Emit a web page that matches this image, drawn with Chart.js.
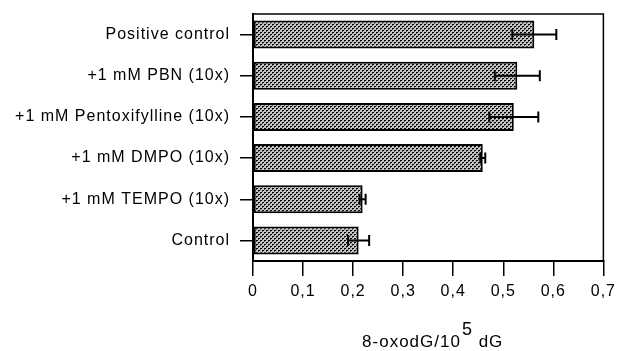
<!DOCTYPE html>
<html>
<head>
<meta charset="utf-8">
<script src="https://cdn.jsdelivr.net/npm/chart.js@4"></script>
<style>
  html, body { margin: 0; padding: 0; background: #fff; }
  #wrap { width: 622px; height: 351px; }
</style>
</head>
<body>
<div id="wrap"><canvas id="myChart"></canvas></div>
<script>
const categories = ['Positive control', '+1 mM PBN (10x)', '+1 mM Pentoxifylline (10x)', '+1 mM DMPO (10x)', '+1 mM TEMPO (10x)', 'Control'];
const means = [0.562, 0.528, 0.521, 0.459, 0.219, 0.211];
const errors = [0.044, 0.045, 0.049, 0.005, 0.006, 0.021];
const xTickLabels = ['0', '0,1', '0,2', '0,3', '0,4', '0,5', '0,6', '0,7'];

const graph = document.querySelector('#myChart');
const fontFam = '"Liberation Sans", Arial, sans-serif';

// stippled fill like the scanned figure
const makePattern = () => {
    const c = document.createElement('canvas');
    c.width = 4;
    c.height = 4;
    const p = c.getContext('2d');
    p.fillStyle = '#c4c4c4';
    p.fillRect(0, 0, 4, 4);
    p.fillStyle = '#000';
    p.fillRect(0, 0, 2, 1);
    p.fillRect(2, 2, 2, 1);
    p.fillStyle = '#555';
    p.fillRect(0, 1, 1, 1);
    p.fillRect(2, 3, 1, 1);
    return graph.getContext('2d').createPattern(c, 'repeat');
}

const spacing = {
    id: 'spacing',
    beforeLayout(chart) {
        chart.ctx.letterSpacing = '1px';
    },
    beforeDraw(chart) {
        chart.ctx.letterSpacing = '1px';
    }
}

const frame = {
    id: 'frame',
    afterDraw(chart) {
        const { ctx, chartArea: a } = chart;
        ctx.save();
        ctx.strokeStyle = '#000';
        ctx.lineWidth = 1.5;
        ctx.beginPath();
        ctx.moveTo(a.left, a.top);
        ctx.lineTo(a.right, a.top);
        ctx.lineTo(a.right, a.bottom);
        ctx.stroke();

        // axis title with superscript
        ctx.fillStyle = '#000';
        ctx.textBaseline = 'alphabetic';
        ctx.textAlign = 'left';
        ctx.letterSpacing = '1px';
        const cx = (a.left + a.right) / 2 + 4;
        const base = 347;
        const t1 = '8-oxodG/10';
        const t3 = ' dG';
        ctx.font = '17px ' + fontFam;
        const w1 = ctx.measureText(t1).width;
        const w3 = ctx.measureText(t3).width;
        ctx.font = '18px ' + fontFam;
        const w2 = ctx.measureText('5').width;
        const x = cx - (w1 + w2 + w3) / 2;
        ctx.font = '17px ' + fontFam;
        ctx.fillText(t1, x, base);
        ctx.font = '18px ' + fontFam;
        ctx.fillText('5', x + w1 + 1, base - 12);
        ctx.font = '17px ' + fontFam;
        ctx.fillText(t3, x + w1 + w2 + 1, base);
        ctx.restore();
    }
}

const errorBars = {
    id: 'errorBars',
    afterDatasetsDraw(chart) {
        const { ctx } = chart;
        const xs = chart.scales.x;
        const meta = chart.getDatasetMeta(0);
        ctx.save();
        ctx.strokeStyle = '#000';
        ctx.lineWidth = 2;
        meta.data.forEach((bar, i) => {
            const x1 = xs.getPixelForValue(means[i] - errors[i]);
            const x2 = xs.getPixelForValue(means[i] + errors[i]);
            const y = bar.y;
            ctx.beginPath();
            ctx.moveTo(x1, y);
            ctx.lineTo(x2, y);
            ctx.moveTo(x1, y - 5.5);
            ctx.lineTo(x1, y + 5.5);
            ctx.moveTo(x2, y - 5.5);
            ctx.lineTo(x2, y + 5.5);
            ctx.stroke();
        });
        ctx.restore();
    }
}

const chart = new Chart(graph, {
    type: 'bar',
    data: {
        labels: categories,
        datasets: [{
            data: means,
            backgroundColor: makePattern(),
            borderColor: '#000',
            borderWidth: 2,
            borderSkipped: false,
            barPercentage: 0.68,
            categoryPercentage: 1
        }]
    },
    options: {
        indexAxis: 'y',
        responsive: true,
        maintainAspectRatio: false,
        animation: false,
        layout: {
            padding: { top: 14, right: 11, bottom: 0, left: 0 }
        },
        scales: {
            x: {
                min: 0,
                max: 0.7,
                afterFit: (scale) => { scale.height = 90; },
                ticks: {
                    stepSize: 0.1,
                    color: '#000',
                    padding: 6,
                    font: { size: 16, family: fontFam },
                    callback: (value, index) => xTickLabels[index]
                },
                grid: {
                    drawOnChartArea: false,
                    drawTicks: true,
                    tickLength: 15,
                    color: '#000',
                    lineWidth: 1.5
                },
                border: { color: '#000', width: 2 }
            },
            y: {
                afterFit: (scale) => {
                    scale.width = 253;
                    scale.paddingTop = 0;
                    scale.paddingBottom = 0;
                },
                ticks: {
                    color: '#000',
                    padding: 10,
                    font: { size: 16, family: fontFam }
                },
                grid: {
                    offset: false,
                    drawOnChartArea: false,
                    drawTicks: true,
                    tickLength: 13,
                    color: '#000',
                    lineWidth: 1.5
                },
                border: { color: '#000', width: 2 }
            }
        },
        plugins: {
            legend: { display: false },
            tooltip: { enabled: false }
        }
    },
    plugins: [spacing, errorBars, frame]
});
</script>
</body>
</html>
